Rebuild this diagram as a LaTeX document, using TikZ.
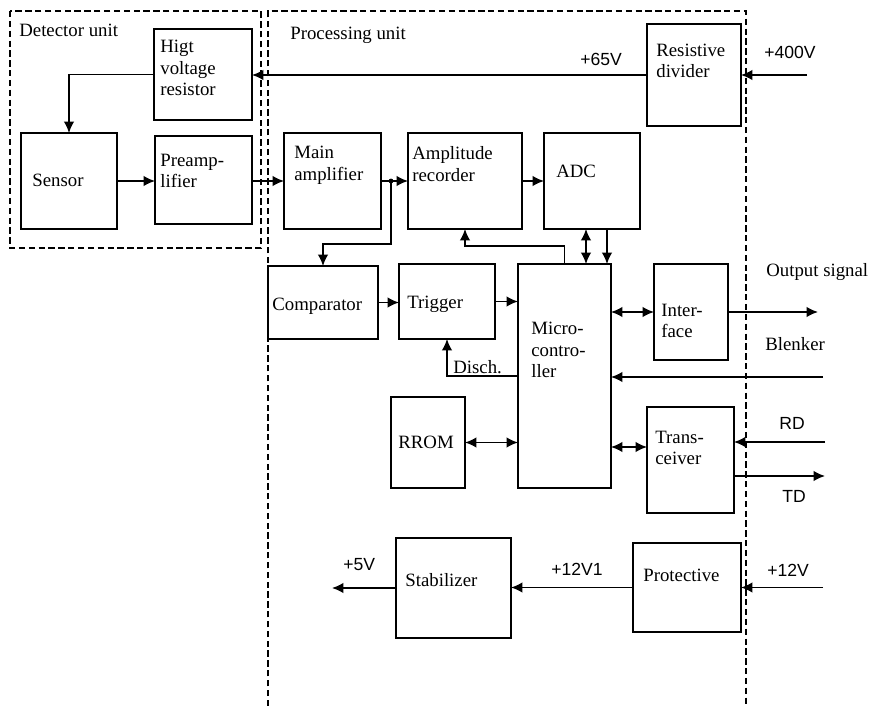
\documentclass[tikz,border=0pt]{standalone}
\usepackage{fontspec}
\setmainfont{Liberation Serif}
\newfontfamily\arialfont{Liberation Sans}
\usetikzlibrary{arrows.meta}

\begin{document}
\begin{tikzpicture}[x=0.02cm, y=-0.02cm,
      box/.style={draw, line width=0.9pt, inner sep=0pt, outer sep=0pt},
      bx/.style 2 args={minimum width=#1*0.02cm, minimum height=#2*0.02cm},
      txt/.style={anchor=west, align=left, inner sep=0pt,
                  font=\fontsize{10.7}{12.3}\selectfont},
      volt/.style={anchor=west, inner sep=0pt, font=\arialfont\fontsize{10}{12}\selectfont},
      unit/.style={line width=0.9pt, dash pattern=on 3.6pt off 2pt},
      arr/.style={-{Latex[length=6.5pt,width=6pt]}, line width=0.9pt},
      dbl/.style={{Latex[length=6.5pt,width=6pt]}-{Latex[length=6.5pt,width=6pt]}, line width=0.9pt}]

    \useasboundingbox (0,0) rectangle (870,706);

    % units
    \draw[unit] (10,11) rectangle (261,248);
    \draw[unit] (268,706) -- (268,11) -- (746,11) -- (746,706);
    \node[txt] (det-t) at (19,30) {Detector unit};
    \node[txt] (proc-t) at (290,35) {Processing unit};

    % blocks
    \node[box, bx={98}{91}]  (hvr)  at (203,74.5)  {};
    \node[box, bx={96}{96}]  (sens) at (69,181)    {};
    \node[box, bx={97}{88}]  (pre)  at (203.5,180) {};
    \node[box, bx={97}{96}]  (amp)  at (332.5,181) {};
    \node[box, bx={114}{96}] (rec)  at (465,181)   {};
    \node[box, bx={96}{96}]  (adc)  at (592,181)   {};
    \node[box, bx={94}{102}] (div)  at (694,75)    {};
    \node[box, bx={110}{73}] (cmp)  at (323,302.5) {};
    \node[box, bx={96}{75}]  (trg)  at (447,301.5) {};
    \node[box, bx={93}{224}] (mcu)  at (564.5,376) {};
    \node[box, bx={74}{91}]  (rrom) at (428,442.5) {};
    \node[box, bx={74}{96}]  (ifc)  at (691,312)   {};
    \node[box, bx={87}{106}] (trx)  at (690.5,460) {};
    \node[box, bx={115}{100}] (stab) at (453.5,588) {};
    \node[box, bx={108}{89}] (prot) at (687,587.5) {};

    % block texts
    \node[txt] (hvr-t)  at (160,68)  {Higt\\voltage\\resistor};
    \node[txt] (sens-t) at (32,180)  {Sensor};
    \node[txt] (pre-t)  at (160,171) {Preamp-\\lifier};
    \node[txt] (amp-t)  at (294,165) {Main\\amplifier};
    \node[txt] (rec-t)  at (412,164) {Amplitude\\recorder};
    \node[txt] (adc-t)  at (556,171) {ADC};
    \node[txt] (div-t)  at (656,61)  {Resistive\\divider};
    \node[txt] (cmp-t)  at (272,306) {Comparator};
    \node[txt] (trg-t)  at (407,304) {Trigger};
    \node[txt] (mcu-t)  at (531,350) {Micro-\\contro-\\ller};
    \node[txt] (rrom-t) at (398,442) {RROM};
    \node[txt] (ifc-t)  at (661,321) {Inter-\\face};
    \node[txt] (trx-t)  at (655,448) {Trans-\\ceiver};
    \node[txt] (stab-t) at (405,580) {Stabilizer};
    \node[txt] (prot-t) at (643,575) {Protective};
    \node[txt] (dis-t)  at (453,367) {Disch.};
    \node[txt] (out-t)  at (766,272) {Output signal};
    \node[txt] (blk-t)  at (765,344) {Blenker};

    % voltage and line labels
    \node[volt] (v65)  at (580,59)  {+65V};
    \node[volt] (v400) at (764,52)  {+400V};
    \node[volt] (rd-t) at (779,423) {RD};
    \node[volt] (td-t) at (782,496) {TD};
    \node[volt] (v5)   at (343,565) {+5V};
    \node[volt] (v121) at (551,569) {+12V1};
    \node[volt] (v12)  at (767,570) {+12V};

    % free ends and helpers
    \coordinate (in400) at (807,75);
    \coordinate (outs)  at (818,312);
    \coordinate (blk)   at (823,377);
    \coordinate (rd)    at (825,442);
    \coordinate (td)    at (825,476);
    \coordinate (in12)  at (823,587.5);
    \coordinate (out5)  at (332,588);
    \coordinate (j)     at (391,181);
    \coordinate (jb)    at (391,244);
    \coordinate (a1)    at (586,0);
    \coordinate (a2)    at (607,0);
    \coordinate (t1)    at (0,447);

    % connectors
    \draw[arr] (in400) -- (in400 -| div.east);
    \draw[arr] (div.west) -- (div.west -| hvr.east);
    \draw[arr] (hvr.west) -| (sens.north);
    \draw[arr] (sens.east) -- (sens.east -| pre.west);
    \draw[arr] (amp.west -| pre.east) -- (amp.west);
    \draw[arr] (amp.east) -- (rec.west);
    \fill (j) circle (2.4);
    \draw[arr] (j) -- (jb) -| (cmp.north);
    \draw[arr] (rec.east) -- (adc.west);
    \draw[arr] (mcu.north) -- ++(0,-18) -| (rec.south);
    \draw[dbl] (adc.south -| a1) -- (mcu.north -| a1);
    \draw[arr] (adc.south -| a2) -- (mcu.north -| a2);
    \draw[arr] (cmp.east) -- (cmp.east -| trg.west);
    \draw[arr] (trg.east) -- (trg.east -| mcu.west);
    \draw[arr] (mcu.west) -| (trg.south);
    \draw[dbl] (rrom.east) -- (rrom.east -| mcu.west);
    \draw[dbl] (ifc.west -| mcu.east) -- (ifc.west);
    \draw[arr] (ifc.east) -- (outs);
    \draw[arr] (blk) -- (blk -| mcu.east);
    \draw[dbl] (mcu.east |- t1) -- (trx.west |- t1);
    \draw[arr] (rd) -- (rd -| trx.east);
    \draw[arr] (td -| trx.east) -- (td);
    \draw[arr] (in12) -- (in12 -| prot.east);
    \draw[arr] (prot.west) -- (prot.west -| stab.east);
    \draw[arr] (stab.west) -- (out5);
  \end{tikzpicture}
\end{document}
